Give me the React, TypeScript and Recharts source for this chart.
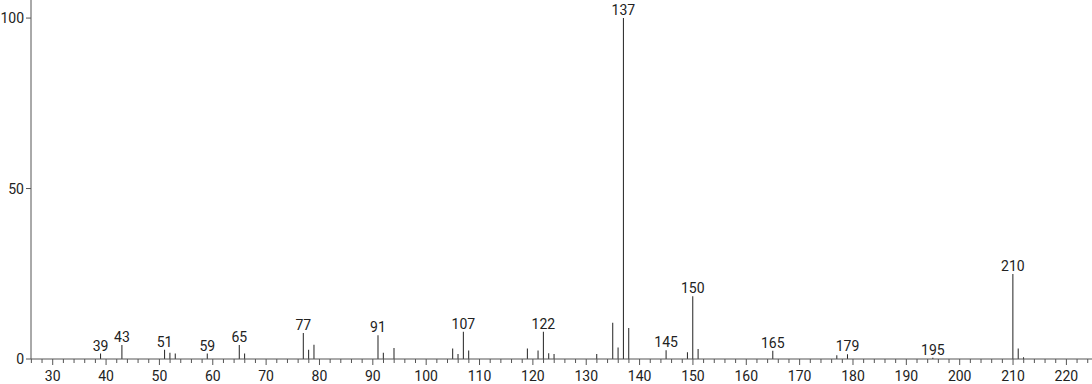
import { BarChart, Bar, XAxis, YAxis, LabelList } from 'recharts'

// m/z values and relative intensities
const mzValues = [39, 43, 51, 52, 53, 59, 65, 66, 77, 78, 79, 91, 92, 94, 105, 106, 107, 108, 119, 121, 122, 123, 124, 132, 135, 136, 137, 138, 145, 149, 150, 151, 165, 177, 179, 195, 210, 211, 212]
const intensities = [1.6, 4.1, 2.7, 1.8, 1.6, 1.6, 4.1, 1.6, 7.6, 2.7, 4.2, 7.0, 1.8, 3.2, 3.1, 1.5, 8.0, 2.5, 3.1, 2.5, 8.0, 1.7, 1.5, 1.5, 10.6, 3.4, 100, 9.1, 2.6, 2.0, 18.4, 2.9, 2.4, 1.1, 1.4, 0.4, 24.9, 3.1, 0.5]
const labeledPeaks = [39, 43, 51, 59, 65, 77, 91, 107, 122, 137, 145, 150, 165, 179, 195, 210]

const xTicks = [26, 28, 30, 32, 34, 36, 38, 40, 42, 44, 46, 48, 50, 52, 54, 56, 58, 60, 62, 64, 66, 68, 70, 72, 74, 76, 78, 80, 82, 84, 86, 88, 90, 92, 94, 96, 98, 100, 102, 104, 106, 108, 110, 112, 114, 116, 118, 120, 122, 124, 126, 128, 130, 132, 134, 136, 138, 140, 142, 144, 146, 148, 150, 152, 154, 156, 158, 160, 162, 164, 166, 168, 170, 172, 174, 176, 178, 180, 182, 184, 186, 188, 190, 192, 194, 196, 198, 200, 202, 204, 206, 208, 210, 212, 214, 216, 218, 220, 222, 224]
const yTicks = [0, 50, 100]

const font = 'Roboto, "Liberation Sans", Arial, sans-serif'

const XTick = (props: any) => {
  const { x, y, payload } = props
  const v = payload.value
  const major = v % 10 === 0
  return (
    <g>
      <line x1={x} x2={x} y1={y} y2={y + (major ? 6 : 4)} stroke="#555" />
      {major && (
        <text x={x} y={y + 22} textAnchor="middle" fontSize={14} fill="#222" fontFamily={font}>
          {v}
        </text>
      )}
    </g>
  )
}

const PeakLabel = (props: any) => {
  const { x, y, width, value } = props
  if (!labeledPeaks.includes(value)) return null
  return (
    <text x={x + width / 2} y={y - 3} textAnchor="middle" fontSize={14} fill="#222" fontFamily={font}>
      {value}
    </text>
  )
}

export default function App() {
  const data = mzValues.map((mz, i) => ({ mz, intensity: intensities[i] }))

  return (
    <div style={{ position: 'fixed', left: 0, top: 0, background: '#fff' }}>
      <BarChart
        width={1092}
        height={384}
        data={data}
        margin={{ top: 0, right: 0, left: 0, bottom: 0 }}
      >
        <XAxis
          dataKey="mz"
          type="number"
          domain={[25.93, 224.8]}
          ticks={xTicks}
          interval={0}
          allowDataOverflow
          tickSize={0}
          tickMargin={0}
          tick={<XTick />}
          stroke="#555"
          height={25}
        />
        <YAxis
          type="number"
          domain={[0, 105.3]}
          ticks={yTicks}
          allowDataOverflow
          width={31}
          tickSize={5}
          tickMargin={2}
          stroke="#555"
          tick={{ fill: '#222', fontSize: 14, fontFamily: font }}
        />
        <Bar dataKey="intensity" fill="#222" barSize={1} isAnimationActive={false}>
          <LabelList dataKey="mz" content={<PeakLabel />} />
        </Bar>
      </BarChart>
    </div>
  )
}
